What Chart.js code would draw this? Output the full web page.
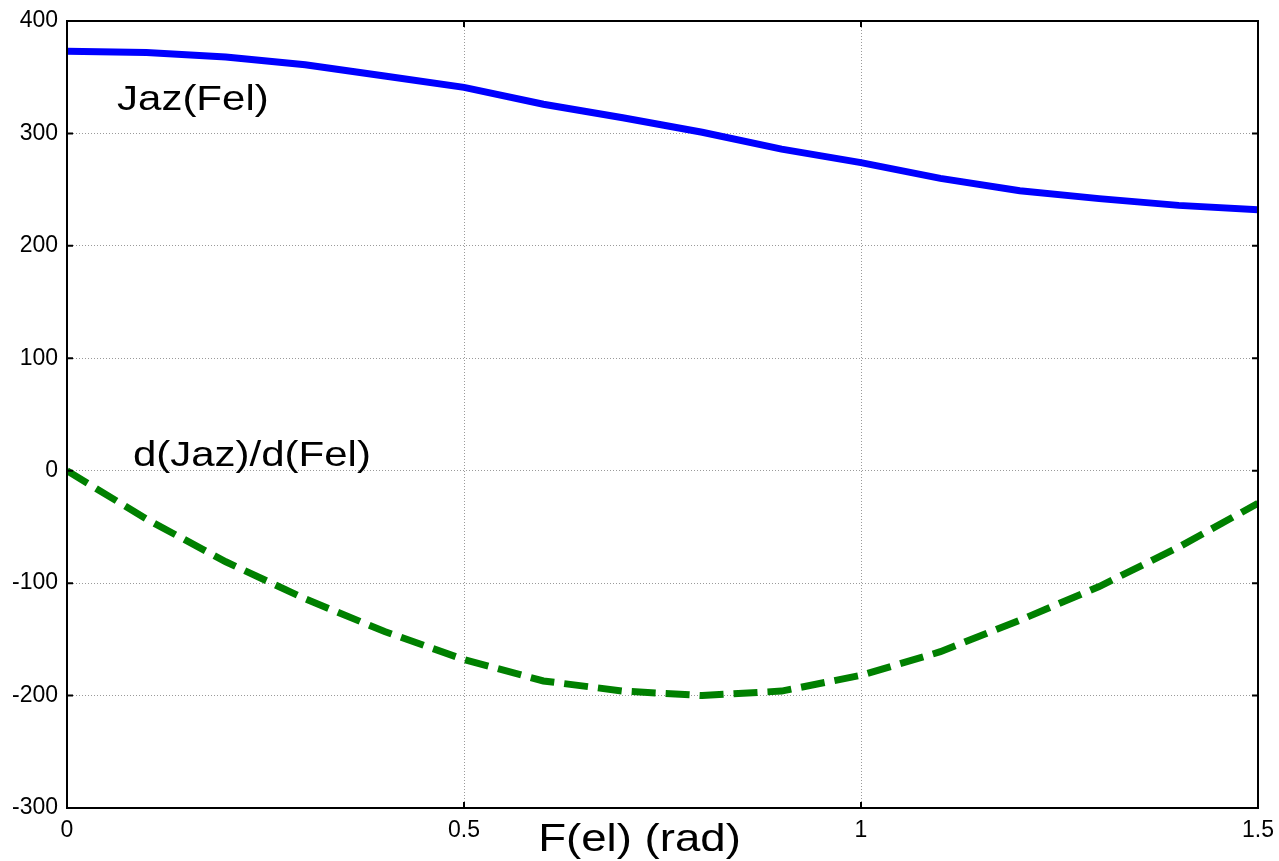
<!DOCTYPE html>
<html>
<head>
<meta charset="utf-8">
<script src="https://cdn.jsdelivr.net/npm/chart.js@4.4.0/dist/chart.umd.min.js"></script>
<style>
  body { margin: 0; background: #fff; }
  #wrap { width: 1279px; height: 861px; }
</style>
</head>
<body>
<div id="wrap"><canvas id="plot" width="1279" height="861"></canvas></div>
<script>
// F(el) in rad, sampled every 0.1
const fel = [0, 0.1, 0.2, 0.3, 0.4, 0.5, 0.6, 0.7, 0.8, 0.9, 1.0, 1.1, 1.2, 1.3, 1.4, 1.5];
// Jaz(Fel)
const jaz = [373, 372, 368, 361, 351, 341, 326, 314, 301, 286, 274, 260, 249, 242, 236, 232];
// d(Jaz)/d(Fel)
const dJaz = [0, -43, -81, -114, -143, -168, -187, -196, -200, -196, -182, -161, -133, -103, -68, -29];

const xTicks = [0, 0.5, 1, 1.5];
const yTicks = [-300, -200, -100, 0, 100, 200, 300, 400];

// text labels placed in data units
const curveLabels = [
    { text: 'Jaz(Fel)', x: 0.063, y: 321 },
    { text: 'd(Jaz)/d(Fel)', x: 0.083, y: 4 }
];
const xTitle = 'F(el) (rad)';

const FONT = '"Liberation Sans", Arial, sans-serif';

function toPoints(xs, ys) {
    return xs.map((x, i) => ({ x: x, y: ys[i] }));
}

// draw text a bit wider than normal, the source picture is stretched
function wideText(ctx, text, x, y, size, align) {
    ctx.save();
    ctx.font = size + 'px ' + FONT;
    ctx.fillStyle = '#000';
    ctx.textAlign = align;
    ctx.textBaseline = 'alphabetic';
    ctx.translate(x, y);
    ctx.scale(1.2, 1);
    ctx.fillText(text, 0, 0);
    ctx.restore();
}

// frame, inward tick marks and the text labels
const framePlugin = {
    id: 'frame',
    afterDraw(chart) {
        const ctx = chart.ctx;
        const a = chart.chartArea;
        const sx = chart.scales.x;
        const sy = chart.scales.y;

        ctx.save();
        ctx.strokeStyle = '#000';
        ctx.lineWidth = 2;
        ctx.strokeRect(a.left, a.top, a.right - a.left, a.bottom - a.top);

        ctx.beginPath();
        xTicks.forEach(v => {
            const px = sx.getPixelForValue(v);
            ctx.moveTo(px, a.bottom); ctx.lineTo(px, a.bottom - 6);
            ctx.moveTo(px, a.top); ctx.lineTo(px, a.top + 6);
        });
        yTicks.forEach(v => {
            const py = sy.getPixelForValue(v);
            ctx.moveTo(a.left, py); ctx.lineTo(a.left + 6, py);
            ctx.moveTo(a.right, py); ctx.lineTo(a.right - 6, py);
        });
        ctx.stroke();
        ctx.restore();

        curveLabels.forEach(l => {
            wideText(ctx, l.text, sx.getPixelForValue(l.x), sy.getPixelForValue(l.y), 35, 'left');
        });
        wideText(ctx, xTitle, chart.width / 2, chart.height - 10, 38, 'center');
    }
};

const ctx = document.getElementById('plot').getContext('2d');
const myChart = new Chart(ctx, {
    type: 'scatter',
    data: {
        datasets: [
            {
                label: 'Jaz(Fel)',
                data: toPoints(fel, jaz),
                showLine: true,
                borderColor: '#0000ff',
                borderWidth: 7,
                pointRadius: 0,
                tension: 0
            },
            {
                label: 'd(Jaz)/d(Fel)',
                data: toPoints(fel, dJaz),
                showLine: true,
                borderColor: '#008000',
                borderWidth: 7,
                borderDash: [24, 10],
                pointRadius: 0,
                tension: 0
            }
        ]
    },
    options: {
        responsive: false,
        animation: false,
        layout: { padding: { top: 21, right: 21, left: 0, bottom: 0 } },
        plugins: {
            legend: { display: false },
            tooltip: { enabled: false }
        },
        scales: {
            x: {
                type: 'linear',
                min: 0,
                max: 1.5,
                afterBuildTicks: s => { s.ticks = xTicks.map(v => ({ value: v })); },
                afterFit: s => { s.height = 53; s.paddingLeft = 0; s.paddingRight = 0; },
                ticks: {
                    color: '#000',
                    font: { family: FONT, size: 23 },
                    padding: 9,
                    maxRotation: 0,
                    callback: v => String(v)
                },
                grid: { color: '#9a9a9a', lineWidth: 1, drawTicks: false },
                border: { display: false, dash: [1, 2] }
            },
            y: {
                min: -300,
                max: 400,
                afterBuildTicks: s => { s.ticks = yTicks.map(v => ({ value: v })); },
                afterFit: s => { s.width = 67; s.paddingTop = 0; s.paddingBottom = 0; },
                ticks: {
                    color: '#000',
                    font: { family: FONT, size: 23 },
                    padding: 9
                },
                grid: { color: '#9a9a9a', lineWidth: 1, drawTicks: false },
                border: { display: false, dash: [1, 2] }
            }
        }
    },
    plugins: [framePlugin]
});
</script>
</body>
</html>
